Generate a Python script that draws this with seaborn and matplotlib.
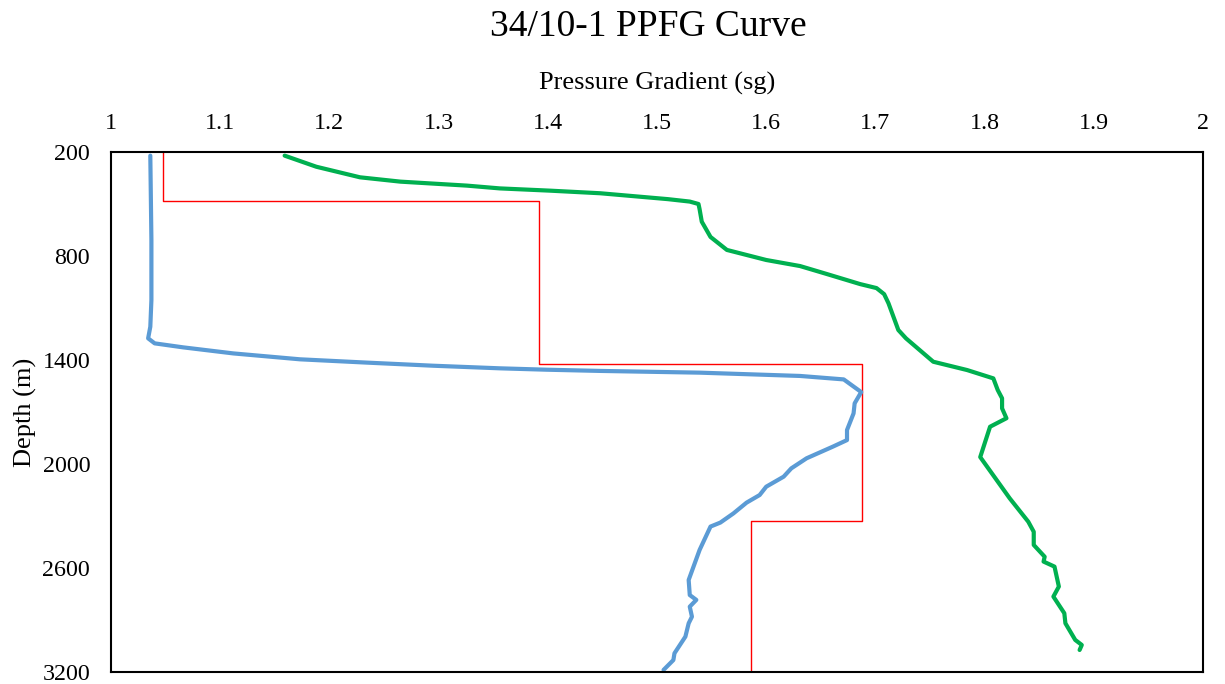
import matplotlib
matplotlib.use("Agg")
import matplotlib.pyplot as plt
import seaborn as sns

# Pore pressure (blue)
pp_sg = [1.036, 1.037, 1.037, 1.036, 1.034, 1.040, 1.066, 1.112, 1.173, 1.234,
         1.295, 1.356, 1.399, 1.448, 1.539, 1.631, 1.671, 1.687, 1.681, 1.680,
         1.674, 1.674, 1.661, 1.637, 1.623, 1.616, 1.600, 1.594, 1.582, 1.570,
         1.558, 1.549, 1.539, 1.529, 1.530, 1.536, 1.530, 1.532, 1.529, 1.526,
         1.516, 1.515, 1.506]
pp_depth = [221, 708, 1054, 1208, 1275, 1304, 1327, 1362, 1396, 1415,
            1433, 1448, 1456, 1463, 1473, 1492, 1512, 1585, 1650, 1708,
            1804, 1862, 1900, 1967, 2025, 2073, 2131, 2179, 2223, 2285,
            2338, 2361, 2496, 2669, 2756, 2784, 2823, 2881, 2919, 2996,
            3092, 3131, 3188]

# Fracture gradient (green)
fg_sg = [1.159, 1.188, 1.228, 1.265, 1.326, 1.356, 1.402, 1.448, 1.510, 1.530,
         1.538, 1.539, 1.541, 1.549, 1.564, 1.600, 1.631, 1.655, 1.686, 1.701,
         1.708, 1.712, 1.721, 1.728, 1.753, 1.784, 1.808, 1.812, 1.816, 1.816,
         1.820, 1.805, 1.796, 1.823, 1.840, 1.845, 1.845, 1.855, 1.854, 1.864,
         1.868, 1.863, 1.873, 1.874, 1.883, 1.889, 1.887]
fg_depth = [221, 285, 346, 371, 394, 410, 423, 438, 472, 486,
            500, 530, 602, 690, 765, 823, 858, 903, 962, 985,
            1020, 1073, 1227, 1275, 1410, 1458, 1506, 1573, 1621, 1679,
            1736, 1785, 1960, 2198, 2333, 2391, 2467, 2535, 2563, 2592,
            2707, 2765, 2861, 2919, 3015, 3044, 3073]

# Mud weight steps (red)
mw_sg = [1.048, 1.048, 1.392, 1.392, 1.688, 1.688, 1.586, 1.586]
mw_depth = [200, 483, 483, 1423, 1423, 2327, 2327, 3200]

x_ticks = [1, 1.1, 1.2, 1.3, 1.4, 1.5, 1.6, 1.7, 1.8, 1.9, 2]
x_labels = ["1", "1.1", "1.2", "1.3", "1.4", "1.5", "1.6", "1.7", "1.8", "1.9", "2"]
y_ticks = [200, 800, 1400, 2000, 2600, 3200]

sns.set_style("white")
plt.rcParams["font.family"] = ["Liberation Serif", "DejaVu Serif"]
plt.rcParams["text.color"] = "black"
plt.rcParams["axes.labelcolor"] = "black"

fig = plt.figure(figsize=(12.25, 6.84), dpi=100)
ax = fig.add_axes([111 / 1225, 1 - 672 / 684, 1092 / 1225, 520 / 684])

sns.lineplot(x=mw_sg, y=mw_depth, sort=False, estimator=None, color="#FF0000", linewidth=1.0, ax=ax)
sns.lineplot(x=pp_sg, y=pp_depth, sort=False, estimator=None, color="#5B9BD5", linewidth=3, ax=ax)
sns.lineplot(x=fg_sg, y=fg_depth, sort=False, estimator=None, color="#00B050", linewidth=3, ax=ax)

ax.set_xlim(1, 2)
ax.set_ylim(3200, 200)
ax.xaxis.tick_top()
ax.xaxis.set_label_position("top")
ax.set_xticks(x_ticks)
ax.set_xticklabels(x_labels)
ax.set_yticks(y_ticks)
ax.tick_params(axis="both", length=0, labelsize=17.3, colors="black")
ax.tick_params(axis="x", pad=13)
ax.tick_params(axis="y", pad=15)

for s in ax.spines.values():
    s.set_color("black")
    s.set_linewidth(1.5)

ax.set_xlabel("Pressure Gradient (sg)", fontsize=19, labelpad=17)
ax.set_ylabel("Depth (m)", fontsize=19, labelpad=4)
fig.text(0.529, 1 - 27 / 684, "34/10-1 PPFG Curve", fontsize=27, ha="center", va="center")

fig.savefig("out.png", dpi=100)
